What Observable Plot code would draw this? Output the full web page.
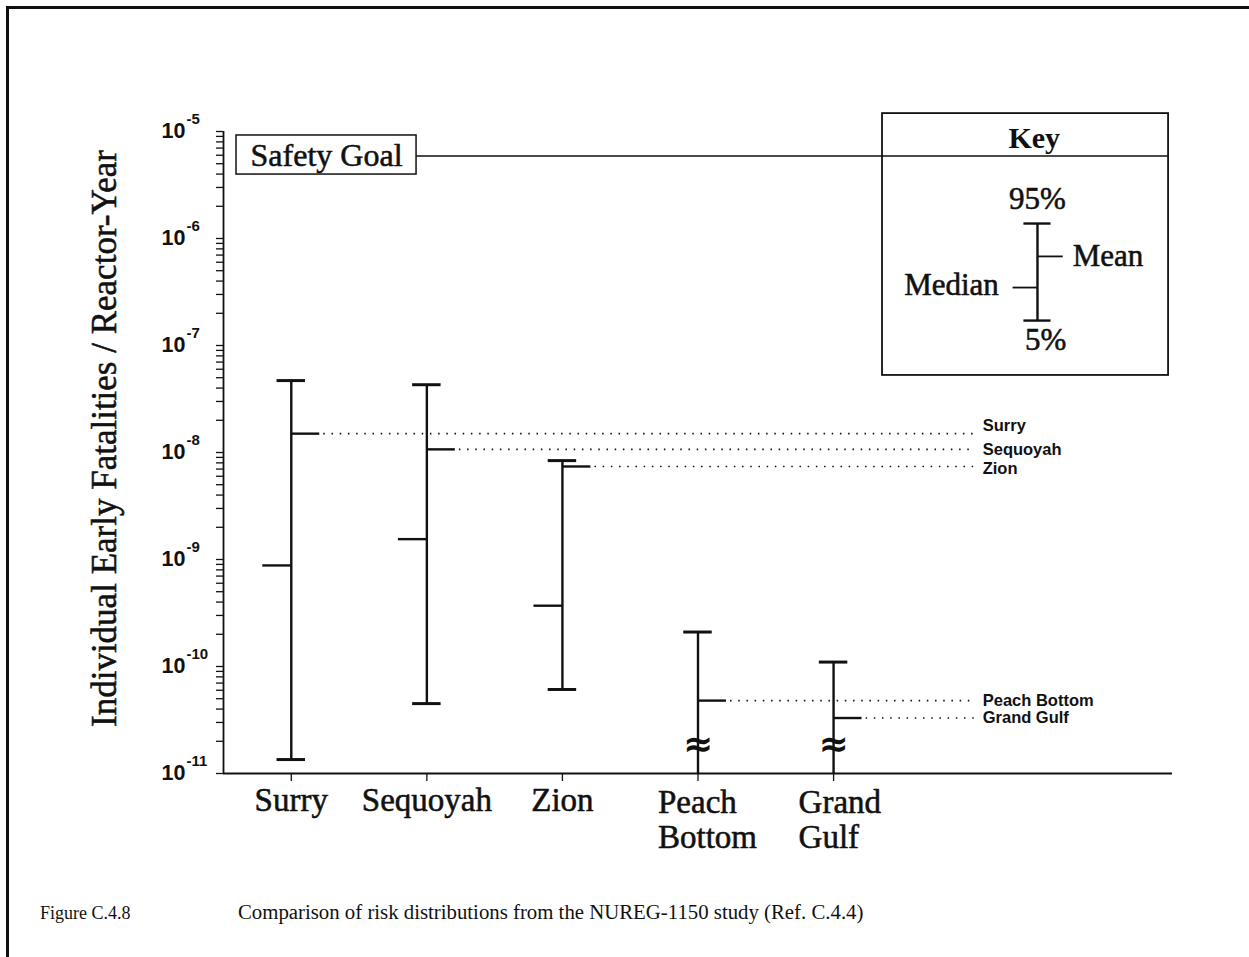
<!DOCTYPE html>
<html>
<head>
<meta charset="utf-8">
<script src="https://cdn.jsdelivr.net/npm/d3@7"></script>
<script src="https://cdn.jsdelivr.net/npm/@observablehq/plot@0.6"></script>
<style>
html, body { margin: 0; padding: 0; background: #fff; overflow: hidden; }
#page { position: relative; width: 1249px; height: 957px; overflow: hidden; background: #fff; }
#chart { position: absolute; left: 0; top: 0; }
#border { position: absolute; left: 6px; top: 6px; right: -10px; bottom: -10px; border-top: 3px solid #111; border-left: 3px solid #111; pointer-events: none; }
#caption { position: absolute; left: 40px; top: 900px; font-family: "Liberation Serif", serif; color: #111; white-space: nowrap; }
#caption .num { display: inline-block; width: 198px; font-size: 18px; }
#caption .txt { font-size: 20.8px; }
</style>
</head>
<body>
<div id="page">
  <div id="chart"></div>
  <div id="border"></div>
  <div id="caption"><span class="num">Figure C.4.8</span><span class="txt">Comparison of risk distributions from the NUREG-1150 study (Ref. C.4.4)</span></div>
</div>
<script>
// ---- data ----
const plants = ["Surry", "Sequoyah", "Zion", "Peach Bottom", "Grand Gulf"];
const axisLabels = ["Surry", "Sequoyah", "Zion", "Peach\nBottom", "Grand\nGulf"];
const p95 = [4.7e-8, 4.3e-8, 8.4e-9, 2.1e-10, 1.1e-10];
const meanVals = [1.5e-8, 1.07e-8, 7.4e-9, 4.8e-11, 3.3e-11];
const medianVals = [8.8e-10, 1.55e-9, 3.7e-10, null, null];
const p5 = [1.35e-11, 4.5e-11, 6.1e-11, null, null];   // null: below the axis (broken)
const safetyGoal = 5.9e-6;
const yExponents = [-11, -10, -9, -8, -7, -6, -5];
const keyLabels = ["95%", "Mean", "Median", "5%"];
const keyLevels = [1.38e-6, 6.8e-7, 3.48e-7, 1.71e-7];

// ---- derived table ----
const yMin = 1e-11, yMax = 1e-5;
const rows = plants.map((p, k) => ({
  plant: p, label: axisLabels[k], i: k + 1,
  p95: p95[k], mean: meanVals[k], median: medianVals[k], p5: p5[k],
  lo: p5[k] == null ? yMin : p5[k]
}));
const minorTicks = d3.scaleLog().domain([yMin, yMax]).ticks();

const serif = "Liberation Serif";
const sans = "Liberation Sans";
const ink = "#111";
const heavy = {fill: ink, stroke: ink, strokeWidth: 0.55};
const cap = 0.105, arm = 0.21;
const labelX = 6.1, dotEnd = 6.04;
const labelShift = {"Surry": -8, "Zion": 2};
const twoLineDx = {"Peach Bottom": -40, "Grand Gulf": -35};

// key geometry (in data space)
const keyX = 6.504;
const K = Object.fromEntries(keyLabels.map((l, k) => [l, keyLevels[k]]));

const marks = [
  // dotted mean leaders
  Plot.ruleY(rows, {y: "mean", x1: d => d.i + arm + 0.03, x2: dotEnd, stroke: ink, strokeWidth: 1.6, strokeDasharray: "1.5,6.7"}),
  // vertical spans
  Plot.ruleX(rows, {x: "i", y1: "lo", y2: "p95", stroke: ink, strokeWidth: 2.4}),
  // caps
  Plot.ruleY(rows, {y: "p95", x1: d => d.i - cap, x2: d => d.i + cap, stroke: ink, strokeWidth: 3}),
  Plot.ruleY(rows.filter(d => d.p5 != null), {y: "p5", x1: d => d.i - cap, x2: d => d.i + cap, stroke: ink, strokeWidth: 3}),
  // mean & median ticks
  Plot.ruleY(rows, {y: "mean", x1: "i", x2: d => d.i + arm, stroke: ink, strokeWidth: 2.4}),
  Plot.ruleY(rows.filter(d => d.median != null), {y: "median", x1: d => d.i - arm, x2: "i", stroke: ink, strokeWidth: 2.4}),
  // axis break symbols
  Plot.text(rows.filter(d => d.p5 == null), {x: "i", frameAnchor: "bottom", dy: -18, text: () => "≈", fontSize: 36, fontWeight: "bold", fontFamily: "DejaVu Sans", fill: ink}),
  // axes lines
  Plot.ruleX([0.5], {y1: yMin, y2: yMax, stroke: ink, strokeWidth: 1.8}),
  Plot.ruleY([yMin], {x1: 0.5, x2: 7.5, stroke: ink, strokeWidth: 1.8}),
  Plot.axisY({ticks: minorTicks, tickSize: 7, tickFormat: () => "", label: null, stroke: ink, strokeWidth: 1.3}),
  Plot.axisX({ticks: rows.map(d => d.i), tickSize: 8, tickFormat: () => "", label: null, stroke: ink, strokeWidth: 1.3}),
  // y tick labels 10^e
  Plot.text(yExponents, {y: e => 10 ** e, frameAnchor: "left", dx: -38, text: () => "10", textAnchor: "end", fontFamily: sans, fontWeight: "bold", fontSize: 21.5, fill: ink}),
  Plot.text(yExponents, {y: e => 10 ** e, frameAnchor: "left", dx: -37, dy: -12, text: e => String(e), textAnchor: "start", fontFamily: sans, fontWeight: "bold", fontSize: 15, fill: ink}),
  // y axis title
  Plot.text(["Individual Early Fatalities / Reactor-Year"], {frameAnchor: "left", dx: -119, dy: -14, rotate: -90, textAnchor: "middle", text: d => d, fontFamily: serif, fontSize: 35, ...heavy}),
  // x labels
  Plot.text(rows.filter(d => !d.label.includes("\n")), {x: "i", frameAnchor: "bottom", dy: 14, lineAnchor: "top", text: "label", fontFamily: serif, fontSize: 33, ...heavy}),
  ...rows.filter(d => d.label.includes("\n")).map(d =>
    Plot.text([d], {x: "i", frameAnchor: "bottom", dy: 14, dx: twoLineDx[d.plant], lineAnchor: "top", textAnchor: "start", lineHeight: 1.08, text: "label", fontFamily: serif, fontSize: 33, ...heavy})),
  // right-hand mean labels
  ...rows.map(d => Plot.text([d], {x: labelX, y: "mean", text: "plant", textAnchor: "start", dy: labelShift[d.plant] || 0, fontFamily: sans, fontWeight: "bold", fontSize: 16.5, fill: ink})),
  // safety goal
  Plot.ruleY([safetyGoal], {x1: 1.924, x2: 7.471, stroke: ink, strokeWidth: 1.6}),
  Plot.rect([safetyGoal], {x1: 0.596, x2: 1.924, y1: 9.18e-6, y2: 3.96e-6, fill: "white", stroke: ink, strokeWidth: 1.5}),
  Plot.text(["Safety Goal"], {x: 1.26, y: safetyGoal, text: d => d, fontFamily: serif, fontSize: 32, ...heavy}),
  // key box
  Plot.rect([0], {x1: 5.361, x2: 7.471, y1: 1.47e-5, y2: 5.25e-8, fill: "none", stroke: ink, strokeWidth: 1.8}),
  Plot.text(["Key"], {x: 6.48, y: 8.6e-6, text: d => d, fontFamily: serif, fontWeight: "bold", fontSize: 30, fill: ink}),
  Plot.ruleX([keyX], {y1: K["5%"], y2: K["95%"], stroke: ink, strokeWidth: 2.4}),
  Plot.ruleY([K["95%"], K["5%"]], {y: d => d, x1: keyX - 0.1, x2: keyX + 0.1, stroke: ink, strokeWidth: 2.4}),
  Plot.ruleY([K["Mean"]], {y: d => d, x1: keyX, x2: keyX + 0.19, stroke: ink, strokeWidth: 1.8}),
  Plot.ruleY([K["Median"]], {y: d => d, x1: keyX - 0.18, x2: keyX, stroke: ink, strokeWidth: 1.8}),
  Plot.text(["95%"], {x: keyX, y: K["95%"], dy: -24, text: d => d, fontFamily: serif, fontSize: 31, ...heavy}),
  Plot.text(["5%"], {x: keyX + 0.06, y: K["5%"], dy: 20, text: d => d, fontFamily: serif, fontSize: 31, ...heavy}),
  Plot.text(["Mean"], {x: keyX + 0.26, y: K["Mean"], text: d => d, textAnchor: "start", fontFamily: serif, fontSize: 31, ...heavy}),
  Plot.text(["Median"], {x: keyX - 0.285, y: K["Median"], dy: -2, text: d => d, textAnchor: "end", fontFamily: serif, fontSize: 31, ...heavy})
];

const chart = Plot.plot({
  width: 1249,
  height: 880,
  marginTop: 131,
  marginBottom: 107,
  marginLeft: 223,
  marginRight: 77,
  style: {background: "none", overflow: "visible"},
  x: {type: "linear", domain: [0.5, 7.5], axis: null},
  y: {type: "log", domain: [yMin, yMax], axis: null},
  marks
});
document.getElementById("chart").appendChild(chart);
</script>
</body>
</html>
